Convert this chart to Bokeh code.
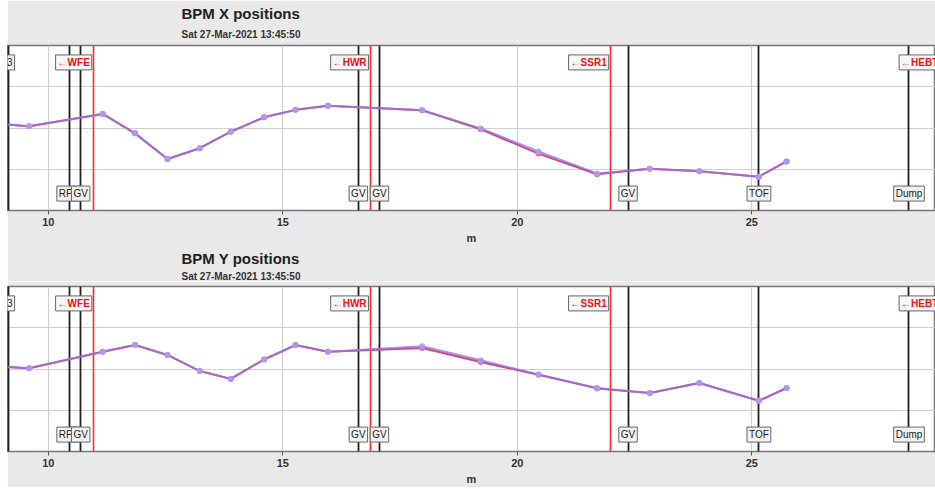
from bokeh.plotting import figure
from bokeh.models import Title, FixedTicker, Range1d, Label
from bokeh.layouts import column
from bokeh.embed import file_html
from bokeh.resources import INLINE

# BPM positions along the beamline (m)
bpm_s = [8.90, 9.59, 11.16, 11.85, 12.54, 13.23, 13.89, 14.60, 15.27, 15.96,
         17.97, 19.22, 20.45, 21.70, 22.82, 23.88, 25.15, 25.74]

# X positions: reference (red) and measured (blue)
x_ref = [0.11, 0.04, 0.34, -0.13, -0.75, -0.49, -0.09, 0.26, 0.44, 0.54,
         0.43, -0.03, -0.62, -1.12, -0.99, -1.05, -1.18, -0.81]
x_meas = [0.11, 0.04, 0.34, -0.13, -0.75, -0.49, -0.09, 0.26, 0.44, 0.54,
          0.43, -0.01, -0.57, -1.10, -0.99, -1.05, -1.18, -0.81]

# Y positions: reference (red) and measured (blue)
y_ref = [0.06, 0.02, 0.42, 0.58, 0.34, -0.05, -0.24, 0.23, 0.58, 0.42,
         0.51, 0.17, -0.14, -0.47, -0.58, -0.34, -0.77, -0.46]
y_meas = [0.06, 0.02, 0.42, 0.58, 0.34, -0.05, -0.24, 0.23, 0.58, 0.42,
          0.55, 0.21, -0.13, -0.46, -0.58, -0.34, -0.77, -0.46]

# Beamline elements (black) and section starts (red)
elem_names = ["I3", "RPU", "GV", "GV", "GV", "GV", "TOF", "Dump"]
elem_s = [9.15, 10.45, 10.69, 16.61, 17.06, 22.36, 25.15, 28.35]
elem_top = [True, False, False, False, False, False, False, False]
sect_names = ["\u2190WFE", "\u2190HWR", "\u2190SSR1", "\u2190HEBT"]
sect_s = [10.97, 16.87, 21.99, 29.06]

x_ticks = [10, 15, 20, 25]
y_grid = [-1, 0, 1]

titles = ["BPM X positions", "BPM Y positions"]
subtitle = "Sat 27-Mar-2021 13:45:50"

BG = "#e9e9e9"
FONT = "Liberation Sans"


def main_title(text, standoff):
    return Title(text=text, align="left", offset=174, standoff=standoff,
                 text_font=FONT, text_font_size="15px", text_font_style="bold",
                 text_color="#222222")


def sub_title(standoff):
    return Title(text=subtitle, align="left", offset=174, standoff=standoff,
                 text_font=FONT, text_font_size="10px", text_font_style="bold",
                 text_color="#333333")


def make_plot(ref, meas, top_border, label_standoff):
    p = figure(output_backend="svg", toolbar_location=None,
               frame_width=928, frame_height=165,
               min_border_left=0, min_border_right=0,
               min_border_top=top_border, min_border_bottom=0,
               x_range=Range1d(9.13, 28.915), y_range=Range1d(-2, 2),
               y_axis_location=None, title_location=None,
               margin=(0, 0, 0, 7))
    p.border_fill_color = BG
    p.background_fill_color = "white"
    p.outline_line_color = "#777777"
    p.outline_line_width = 1.5

    p.xaxis.ticker = FixedTicker(ticks=x_ticks)
    p.xgrid.ticker = FixedTicker(ticks=x_ticks)
    p.ygrid.ticker = FixedTicker(ticks=y_grid)
    p.xgrid.grid_line_color = "#cfcfcf"
    p.ygrid.grid_line_color = "#cfcfcf"
    p.xgrid.grid_line_width = 1.2
    p.ygrid.grid_line_width = 1.2

    ax = p.xaxis[0]
    ax.axis_line_color = None
    ax.major_tick_line_color = "#555555"
    ax.major_tick_out = 4
    ax.major_tick_in = 0
    ax.minor_tick_line_color = None
    ax.major_label_standoff = 3
    ax.major_label_text_font = FONT
    ax.major_label_text_font_size = "11px"
    ax.major_label_text_font_style = "bold"
    ax.major_label_text_color = "#333333"
    ax.axis_label = "m"
    ax.axis_label_standoff = label_standoff
    ax.axis_label_text_font = FONT
    ax.axis_label_text_font_size = "11px"
    ax.axis_label_text_font_style = "bold"
    ax.axis_label_text_color = "#333333"

    # element lines
    p.vspan(x=elem_s, line_color="#222222", line_width=1.8)
    p.vspan(x=sect_s[:3], line_color="#ff2a2a", line_width=1.6)

    # orbit lines
    p.line(bpm_s, ref, line_color="#e0406e", line_width=2)
    p.scatter(bpm_s, ref, size=6, fill_color="#e070a0", line_color=None)
    p.line(bpm_s, meas, line_color="#9078e6", line_width=2, line_alpha=0.8)
    p.scatter(bpm_s, meas, size=6, fill_color="#ad9cf2", line_color=None,
              fill_alpha=0.9)

    # element labels
    for name, s, top in zip(elem_names, elem_s, elem_top):
        p.add_layout(Label(x=s, y=1.59 if top else -1.59, text=name,
                           text_align="center", text_baseline="middle",
                           text_font=FONT, text_font_size="10px",
                           text_color="#222222",
                           background_fill_color="#f2f2f2",
                           border_line_color="#666666", padding=2))
    for name, s in zip(sect_names, sect_s):
        p.add_layout(Label(x=s, y=1.59, text=name, x_offset=-2,
                           text_align="right", text_baseline="middle",
                           text_font=FONT, text_font_size="10px",
                           text_font_style="bold", text_color="#ee1111",
                           background_fill_color="#f6f6f6",
                           border_line_color="#666666", padding=2))
    return p


p1 = make_plot(x_ref, x_meas, 45, 3)
# titles of the upper chart (above its frame)
p1.add_layout(sub_title(11), "above")
p1.add_layout(main_title(titles[0], 0), "above")
# titles of the lower chart, stacked under the upper chart's axis
p1.add_layout(main_title(titles[1], 3), "below")
p1.add_layout(sub_title(0), "below")

p2 = make_plot(y_ref, y_meas, 5, 3)

layout = column(p1, p2, spacing=0, margin=0)
layout.styles = {"background-color": "white"}

open("out.html", "w").write(file_html(layout, INLINE))
